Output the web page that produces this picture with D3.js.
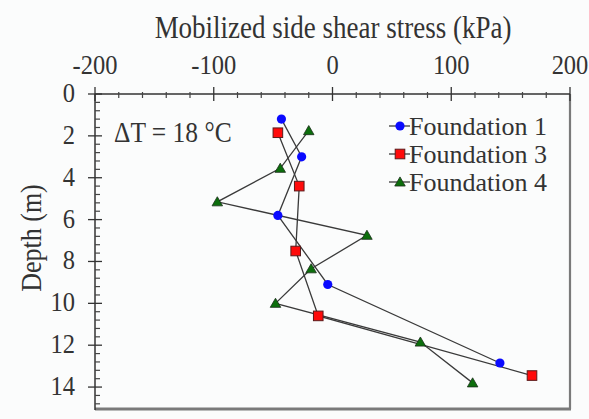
<!DOCTYPE html>
<html>
<head>
<meta charset="utf-8">
<script src="https://cdn.jsdelivr.net/npm/d3@7"></script>
<style>
  html, body { margin: 0; padding: 0; background: #fbfcfc; }
  svg { display: block; }
  text { font-family: "Liberation Serif", "Times New Roman", serif; fill: #333; }
</style>
</head>
<body>
<svg id="chart" width="589" height="419"></svg>
<script>
// Mobilized side shear stress (kPa) against depth (m)
const f1Depth = [1.2, 3.0, 5.8, 9.1, 12.85];
const f1Stress = [-43, -26, -46, -4, 141];
const f3Depth = [1.85, 4.4, 7.5, 10.6, 13.45];
const f3Stress = [-46, -28, -31, -12, 168];
const f4Depth = [1.75, 3.55, 5.15, 6.75, 8.35, 10.0, 11.85, 13.8];
const f4Stress = [-20, -44, -97, 29, -18, -48, 74, 118];

const seriesNames = ["Foundation 1", "Foundation 3", "Foundation 4"];
const xTickValues = [-200, -100, 0, 100, 200];
const yTickValues = [0, 2, 4, 6, 8, 10, 12, 14];

const svg = d3.select("#chart");
const plotLeft = 95, plotRight = 570, plotTop = 94, plotBottom = 408;

const x = d3.scaleLinear().domain([-200, 200]).range([plotLeft, plotRight]);
const y = d3.scaleLinear().domain([0, 15]).range([plotTop, plotBottom]);

// glyphs are drawn slightly taller than wide
function label(parent, tx, ty, str, size, anchor, rotate, stretch = 1.14) {
  return parent.append("text")
    .attr("transform", `translate(${tx},${ty})${rotate ? " rotate(-90)" : ""} scale(1,${stretch})`)
    .attr("text-anchor", anchor || "start")
    .attr("font-size", size)
    .text(str);
}

// frame: gray right and bottom edges
svg.append("line").attr("x1", plotRight).attr("x2", plotRight).attr("y1", plotTop).attr("y2", plotBottom + 1)
  .attr("stroke", "#7a7a7a").attr("stroke-width", 2.2);
svg.append("line").attr("x1", plotLeft).attr("x2", plotRight + 1).attr("y1", plotBottom + 1).attr("y2", plotBottom + 1)
  .attr("stroke", "#7a7a7a").attr("stroke-width", 3);

// top axis
const xMinor = d3.range(-200, 201, 20).filter(v => v % 100 !== 0);
const xAxis = svg.append("g").attr("transform", `translate(0,${plotTop})`);
xAxis.append("line").attr("x1", plotLeft).attr("x2", plotRight).attr("stroke", "#333").attr("stroke-width", 1.3);
xAxis.selectAll(".minor").data(xMinor).join("line")
  .attr("x1", d => x(d)).attr("x2", d => x(d)).attr("y1", -2).attr("y2", 4)
  .attr("stroke", "#444").attr("stroke-width", 1.2);
xAxis.selectAll(".major").data(xTickValues).join("line")
  .attr("x1", d => x(d)).attr("x2", d => x(d)).attr("y1", -7).attr("y2", 7)
  .attr("stroke", "#333").attr("stroke-width", 1.3);
xTickValues.forEach(d => label(xAxis, x(d), -20, d, 24.5, "middle"));

// left axis
const yMinor = d3.range(0, 15.01, 0.4).map(v => +v.toFixed(1)).filter(v => Math.abs(v / 2 - Math.round(v / 2)) > 1e-6);
const yAxis = svg.append("g").attr("transform", `translate(${plotLeft},0)`);
yAxis.append("line").attr("y1", plotTop).attr("y2", plotBottom + 2).attr("stroke", "#333").attr("stroke-width", 1.5);
yAxis.selectAll(".minor").data(yMinor).join("line")
  .attr("y1", d => y(d)).attr("y2", d => y(d)).attr("x1", 0).attr("x2", 5)
  .attr("stroke", "#444").attr("stroke-width", 1.2);
yAxis.selectAll(".major").data(yTickValues).join("line")
  .attr("y1", d => y(d)).attr("y2", d => y(d)).attr("x1", -7).attr("x2", 7)
  .attr("stroke", "#333").attr("stroke-width", 1.3);
yTickValues.forEach(d => label(yAxis, -20, y(d) + 8, d, 24.5, "end"));

// axis titles
label(svg, 333, 38, "Mobilized side shear stress (kPa)", 27, "middle");
label(svg, 41, 238, "Depth (m)", 26, "middle", true);

label(svg, 114, 142, "ΔT = 18 °C", 25.5);

// series
const series = [
  { name: seriesNames[0], depth: f1Depth, stress: f1Stress, shape: "circle", fill: "#0a0aff" },
  { name: seriesNames[1], depth: f3Depth, stress: f3Stress, shape: "square", fill: "#ff0a0a" },
  { name: seriesNames[2], depth: f4Depth, stress: f4Stress, shape: "triangle", fill: "#0c6e0c" }
];

const line = d3.line().x(d => x(d[1])).y(d => y(d[0]));

function marker(g, shape, fill, cx, cy) {
  if (shape === "circle") {
    g.append("circle").attr("cx", cx).attr("cy", cy).attr("r", 4.6).attr("fill", fill);
  } else if (shape === "square") {
    g.append("rect").attr("x", cx - 4.8).attr("y", cy - 4.8).attr("width", 9.6).attr("height", 9.6)
      .attr("fill", fill).attr("stroke", "#5a1a1a").attr("stroke-width", 1);
  } else {
    g.append("path").attr("d", d3.symbol(d3.symbolTriangle, 48)()).attr("transform", `translate(${cx},${cy + 1})`)
      .attr("fill", fill).attr("stroke", "#1b2e1b").attr("stroke-width", 0.8);
  }
}

series.forEach(s => {
  const pts = s.depth.map((d, i) => [d, s.stress[i]]);
  svg.append("path").datum(pts).attr("d", line)
    .attr("fill", "none").attr("stroke", "#3a3a3a").attr("stroke-width", 1.3);
});
series.forEach(s => {
  const g = svg.append("g");
  s.depth.forEach((d, i) => marker(g, s.shape, s.fill, x(s.stress[i]), y(d)));
});

// legend
series.forEach((s, i) => {
  const ly = 126 + i * 28;
  const g = svg.append("g");
  g.append("line").attr("x1", 389).attr("x2", 410).attr("y1", ly).attr("y2", ly)
    .attr("stroke", "#3a3a3a").attr("stroke-width", 1.3);
  marker(g, s.shape, s.fill, 400, ly);
  label(g, 409, ly + 9, s.name, 26, "start", false, 1.0);
});
</script>
</body>
</html>
